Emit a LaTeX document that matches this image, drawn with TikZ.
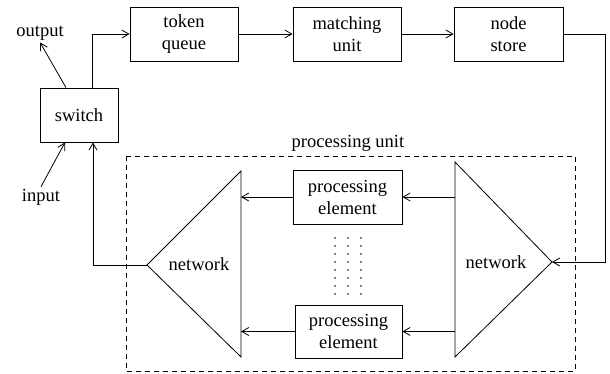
\documentclass[tikz,border=0pt]{standalone}
\usepackage{fontspec}
\setmainfont{Liberation Serif}
\usetikzlibrary{arrows.meta}
\tikzset{
  box/.style={draw, line width=0.8pt, align=center, inner sep=0pt},
  arr/.style={line width=0.8pt, -{Straight Barb[length=7pt,width=8pt,line width=0.8pt]}},
  ln/.style={line width=0.8pt},
  lbl/.style={inner sep=2pt}
}
\begin{document}
\begin{tikzpicture}[x=1pt,y=-1pt,font=\fontsize{18.5}{22}\selectfont]
\useasboundingbox (0,0) rectangle (610,373);
% boxes
\node[box, minimum width=108pt, minimum height=54pt] (tq) at (184,34) {token\\queue};
\node[box, minimum width=108pt, minimum height=54pt] (mu) at (347,34) {matching\\unit};
\node[box, minimum width=109pt, minimum height=54pt] (ns) at (508.5,34) {node\\store};
\node[box, minimum width=78pt, minimum height=54pt] (sw) at (79,115) {switch};
\node[box, minimum width=109pt, minimum height=54pt] (pe1) at (347.5,197) {processing\\element};
\node[box, minimum width=107pt, minimum height=53pt] (pe2) at (348.5,331.5) {processing\\element};
% labels
\node[lbl] (out) at (40,33) {output};
\node[lbl] (in) at (41,197) {input};
\node[lbl] (pu) at (348,143) {processing unit};
% triangles
\coordinate (lt) at (241,171);
\coordinate (lb) at (241,357);
\coordinate (ltip) at (147,265);
\draw[ln, line join=miter] (lt) -- (lb) -- (ltip) -- cycle;
\node[lbl] (lnet) at (199,264) {network};
\coordinate (rt) at (455,162);
\coordinate (rb) at (455,357);
\coordinate (rtip) at (552,262);
\draw[ln, line join=miter] (rt) -- (rb) -- (rtip) -- cycle;
\node[lbl] (rnet) at (496,262) {network};
% dashed box
\draw[ln, dash pattern=on 5pt off 4pt] (126,156) rectangle (575,371);
% dots
\foreach \x in {335,348,361}
  \draw[line width=1.6pt, line cap=round, dash pattern=on 0pt off 8pt] (\x,238) -- (\x,294);
% connectors
\draw[arr] ([xshift=13pt]sw.north) |- (tq.west);
\draw[arr] (tq.east) -- (mu.west);
\draw[arr] (mu.east) -- (ns.west);
\coordinate (c1) at (605,262);
\draw[arr] (ns.east) -| (c1) -- (rtip);
\draw[arr] (pe1.east -| rt) -- (pe1.east);
\draw[arr] (pe2.east -| rt) -- (pe2.east);
\draw[arr] (pe1.west) -- (pe1.west -| lt);
\draw[arr] (pe2.west) -- (pe2.west -| lt);
\draw[arr] (ltip) -| ([xshift=14pt]sw.south);
\draw[arr] ([xshift=-13pt]sw.north) -- (out.south);
\draw[arr] (in.north) -- ([xshift=-14pt]sw.south);
\end{tikzpicture}
\end{document}
